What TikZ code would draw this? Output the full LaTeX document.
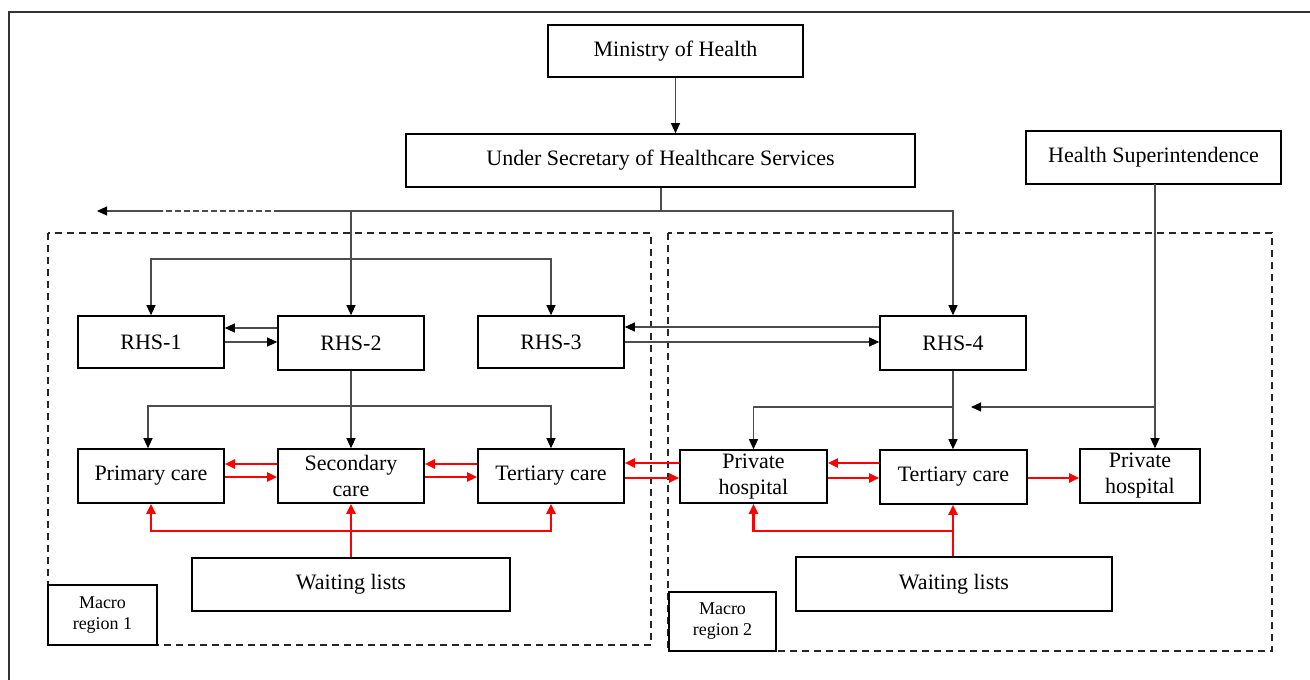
\documentclass[tikz,border=0pt]{standalone}
\usepackage{fontspec}
\setmainfont{Liberation Serif}
\usetikzlibrary{arrows.meta}
\begin{document}
\begin{tikzpicture}[x=1pt,y=-1pt,
  box/.style={draw=black, line width=1.6pt, rectangle, inner sep=0pt,
    font=\fontsize{22}{26}\selectfont, align=center},
  conn/.style={draw=black!70, line width=1.1pt},
  arr/.style={conn, -{Triangle[length=10pt,width=9pt,color=black]}},
  rarr/.style={draw=red, line width=2.2pt, line join=miter,
    -{Triangle[length=10pt,width=9pt]}},
  region/.style={draw=black!85, line width=1.4pt, dash pattern=on 7pt off 5pt},
  tag/.style={box, fill=white, font=\fontsize{18}{21}\selectfont}]

\useasboundingbox (0,0) rectangle (1310,680);

% outer frame
\draw[line width=1.6pt, black!80] (9,680) -- (9,12) -- (1310,12);

% macro regions
\draw[region] (48,233) rectangle (651,645);
\draw[region] (668,233) rectangle (1272,651);

% top level
\node[box, minimum width=255pt, minimum height=52pt] (moh) at (675.5,51) {Ministry of Health};
\node[box, minimum width=509pt, minimum height=53pt] (usec) at (660.5,160.5) {Under Secretary of Healthcare Services};
\node[box, minimum width=255pt, minimum height=53pt] (hsup) at (1153.5,157.5) {Health Superintendence};

% regional health services
\node[box, minimum width=146pt, minimum height=52pt] (rhs1) at (151,342) {RHS-1};
\node[box, minimum width=146pt, minimum height=54pt] (rhs2) at (351,343) {RHS-2};
\node[box, minimum width=146pt, minimum height=52pt] (rhs3) at (551,342) {RHS-3};
\node[box, minimum width=146pt, minimum height=54pt] (rhs4) at (953,343) {RHS-4};

% care levels, macro region 1
\node[box, minimum width=146pt, minimum height=54pt] (prim) at (151,476) {Primary care};
\node[box, minimum width=146pt, minimum height=54pt] (sec) at (351,476) {Secondary\\care};
\node[box, minimum width=146pt, minimum height=54pt] (tert1) at (551,476) {Tertiary care};
\node[box, minimum width=318pt, minimum height=53pt] (wl1) at (351,584.5) {Waiting lists};

% care levels, macro region 2
\node[box, minimum width=147pt, minimum height=53pt] (priv1) at (753.5,476.5) {Private\\hospital};
\node[box, minimum width=147pt, minimum height=54pt] (tert2) at (953.5,477) {Tertiary care};
\node[box, minimum width=120pt, minimum height=54pt] (priv2) at (1140,476) {Private\\hospital};
\node[box, minimum width=316pt, minimum height=54pt] (wl2) at (954,584) {Waiting lists};

% region labels
\node[tag, minimum width=109pt, minimum height=60pt] (mr1) at (102.5,615) {Macro\\region 1};
\node[tag, minimum width=107pt, minimum height=59pt] (mr2) at (722.5,621.5) {Macro\\region 2};

% ministry -> under secretary
\draw[arr] (moh.south) -- (moh.south |- usec.north);

% under secretary distribution line
\coordinate (j0) at (661,211);
\coordinate (lsolid) at (280,211);
\coordinate (ldash) at (163,211);
\coordinate (lend) at (97,211);
\draw[conn] (j0 |- usec.south) -- (j0);
\draw[conn] (j0) -- (lsolid);
\draw[conn, dash pattern=on 6pt off 3pt] (lsolid) -- (ldash);
\draw[arr] (ldash) -- (lend);
\draw[arr] (j0) -| (rhs4.north);
\draw[arr] (j0 -| rhs2.north) -- (rhs2.north);

% branch to RHS-1 and RHS-3
\coordinate (b1) at (351,259);
\draw[arr] (b1) -| (rhs1.north);
\draw[arr] (b1) -| (rhs3.north);

% exchanges between RHS
\draw[arr] ([yshift=15pt]rhs2.west) -- ([yshift=15pt]rhs2.west -| rhs1.east);
\draw[arr] (rhs1.east) -- (rhs1.east -| rhs2.west);
\draw[arr] ([yshift=16pt]rhs4.west) -- ([yshift=16pt]rhs4.west -| rhs3.east);
\draw[arr] (rhs3.east) -- (rhs3.east -| rhs4.west);

% RHS-2 -> care levels
\coordinate (b2) at (351,406);
\draw[conn] (rhs2.south) -- (b2);
\draw[arr] (b2) -- (sec.north);
\draw[arr] (b2) -| ([xshift=-3pt]prim.north);
\draw[arr] (b2) -| (tert1.north);

% RHS-4 -> care levels
\coordinate (b3) at (953,407);
\draw[conn] (rhs4.south) -- (b3);
\draw[arr] (b3) -- (b3 |- tert2.north);
\draw[arr] (b3) -| (priv1.north);

% health superintendence
\coordinate (hsx) at (1155,184);
\coordinate (b4tip) at (971,407);
\draw[arr] (hsx) -- (hsx |- priv2.north);
\draw[arr] (hsx |- b3) -- (b4tip);

% patient flows, macro region 1
\draw[rarr] ([yshift=12pt]sec.west) -- ([yshift=12pt]sec.west -| prim.east);
\draw[rarr] ([yshift=-1pt]prim.east) -- ([yshift=-1pt]prim.east -| sec.west);
\draw[rarr] ([yshift=12pt]tert1.west) -- ([yshift=12pt]tert1.west -| sec.east);
\draw[rarr] ([yshift=-1pt]sec.east) -- ([yshift=-1pt]sec.east -| tert1.west);

% patient flows between regions
\draw[rarr] ([yshift=13.5pt]priv1.west) -- ([yshift=13.5pt]priv1.west -| tert1.east);
\draw[rarr] ([yshift=-2pt]tert1.east) -- ([yshift=-2pt]tert1.east -| priv1.west);

% patient flows, macro region 2
\draw[rarr] ([yshift=14pt]tert2.west) -- ([yshift=14pt]tert2.west -| priv1.east);
\draw[rarr] ([yshift=-1.5pt]priv1.east) -- ([yshift=-1.5pt]priv1.east -| tert2.west);
\draw[rarr] ([yshift=-1pt]tert2.east) -- ([yshift=-1pt]tert2.east -| priv2.west);

% waiting lists, macro region 1
\coordinate (r1) at (351,531);
\draw[rarr] (wl1.north) -- (sec.south);
\draw[rarr] (r1) -| (prim.south);
\draw[rarr] (r1) -| (tert1.south);

% waiting lists, macro region 2
\coordinate (r2) at (953,531);
\draw[rarr] (r2 |- wl2.north) -- (r2 |- tert2.south);
\draw[rarr] (r2) -| (priv1.south);
\end{tikzpicture}
\end{document}
